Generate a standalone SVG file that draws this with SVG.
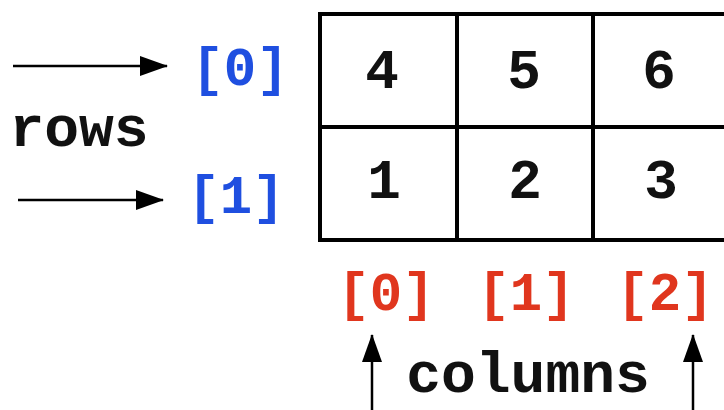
<svg xmlns="http://www.w3.org/2000/svg" width="724" height="410" viewBox="0 0 724 410">
  <style>
    text { font-family: "Liberation Mono", "Courier New", monospace; font-weight: bold; font-size: 58px; text-anchor: middle; }
    .cell { fill: #ffffff; stroke: #000000; stroke-width: 4; }
    .val { fill: #111111; font-size: 56px; }
    .row-idx { fill: #1f4fe0; font-size: 54px; }
    .col-idx { fill: #e0361e; font-size: 54px; }
    .label { fill: #111111; }
    .arrow { stroke: #000000; stroke-width: 2.5; fill: none; marker-end: url(#head); }
  </style>
  <defs>
    <marker id="head" viewBox="0 0 28 20" refX="27" refY="10" markerWidth="28" markerHeight="20" markerUnits="userSpaceOnUse" orient="auto">
      <path d="M0,0 L28,10 L0,20 Z" fill="#000000"/>
    </marker>
  </defs>
  <rect width="724" height="410" fill="#ffffff"/>

  <!-- 2x3 array cells -->
  <g id="cell-0-0"><rect class="cell" x="320" y="14" width="137" height="113"/><text class="val" x="382" y="88">4</text></g>
  <g id="cell-0-1"><rect class="cell" x="457" y="14" width="136" height="113"/><text class="val" x="524" y="88">5</text></g>
  <g id="cell-0-2"><rect class="cell" x="593" y="14" width="140" height="113"/><text class="val" x="659" y="88">6</text></g>
  <g id="cell-1-0"><rect class="cell" x="320" y="127" width="137" height="113"/><text class="val" x="384" y="198">1</text></g>
  <g id="cell-1-1"><rect class="cell" x="457" y="127" width="136" height="113"/><text class="val" x="525" y="198">2</text></g>
  <g id="cell-1-2"><rect class="cell" x="593" y="127" width="140" height="113"/><text class="val" x="661" y="198">3</text></g>

  <!-- row indices -->
  <g id="row-index-0"><text class="row-idx" x="240" y="85">[0]</text></g>
  <g id="row-index-1"><text class="row-idx" x="236" y="213">[1]</text></g>
  <g id="rows-label"><text class="label" x="79" y="146">rows</text></g>

  <!-- column indices -->
  <g id="col-index-0"><text class="col-idx" x="386" y="310">[0]</text></g>
  <g id="col-index-1"><text class="col-idx" x="526" y="310">[1]</text></g>
  <g id="col-index-2"><text class="col-idx" x="665" y="310">[2]</text></g>
  <g id="columns-label"><text class="label" x="528" y="392">columns</text></g>

  <!-- pointer arrows -->
  <g id="connectors">
    <line class="arrow" x1="13" y1="66" x2="167" y2="66"/>
    <line class="arrow" x1="18" y1="200" x2="163" y2="200"/>
    <line class="arrow" x1="372" y1="410" x2="372" y2="335"/>
    <line class="arrow" x1="693" y1="410" x2="693" y2="335"/>
  </g>
</svg>
